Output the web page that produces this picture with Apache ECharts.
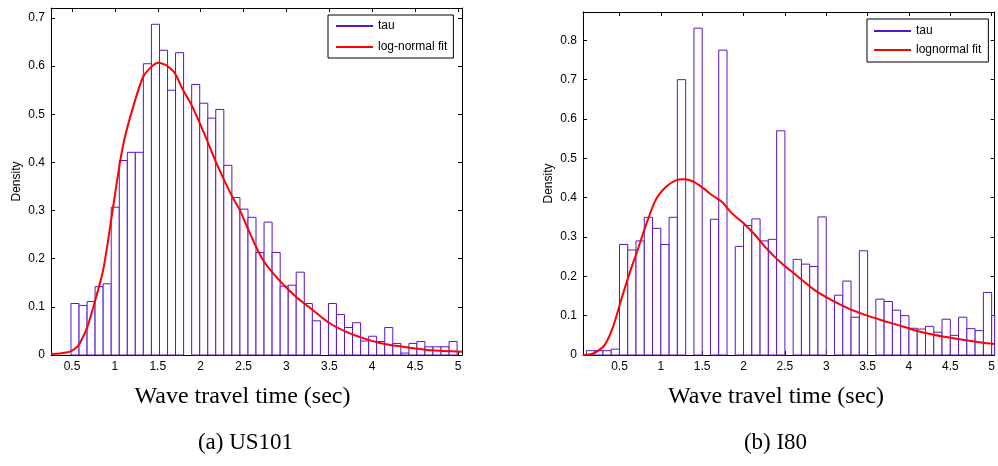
<!DOCTYPE html>
<html><head><meta charset="utf-8">
<script src="https://cdn.jsdelivr.net/npm/echarts@6/dist/echarts.min.js"></script>
<style>html,body{margin:0;padding:0;background:#fff}#c{width:998px;height:466px}</style>
</head><body><div id="c"></div><script>
// ---------- data ----------
const us101BinEdges = [0.488,0.582,0.676,0.769,0.863,0.957,1.051,1.145,1.238,1.332,1.426,1.520,1.614,1.707,1.801,1.895,1.989,2.083,2.176,2.270,2.364,2.458,2.552,2.645,2.739,2.833,2.927,3.021,3.114,3.208,3.302,3.396,3.490,3.583,3.677,3.771,3.865,3.959,4.052,4.146,4.240,4.334,4.428,4.521,4.615,4.709,4.803,4.897,4.990];
const us101Density = [0.107,0.103,0.111,0.142,0.148,0.307,0.404,0.421,0.421,0.605,0.687,0.633,0.550,0.628,0,0.562,0.523,0.492,0.510,0.394,0.327,0.303,0.286,0.213,0.276,0.213,0.143,0.145,0.172,0.107,0.071,0,0.107,0.084,0.057,0.067,0.029,0.039,0.028,0.057,0.024,0.004,0.024,0.028,0.017,0.017,0.017,0.028];
const us101FitX = [0.255,0.36,0.43,0.488,0.547,0.593,0.678,0.768,0.865,0.96,1.059,1.117,1.214,1.33,1.428,1.505,1.583,1.641,1.70,1.796,1.894,1.991,2.088,2.185,2.282,2.379,2.457,2.573,2.728,2.923,3.117,3.311,3.505,3.70,3.893,4.088,4.282,4.476,4.67,5.047];
const us101FitY = [0.002,0.003,0.005,0.008,0.015,0.025,0.058,0.112,0.178,0.285,0.400,0.453,0.516,0.578,0.599,0.607,0.603,0.596,0.585,0.550,0.519,0.481,0.440,0.398,0.360,0.325,0.301,0.253,0.197,0.154,0.120,0.093,0.066,0.048,0.035,0.025,0.019,0.014,0.010,0.007];

const i80BinEdges = [0.1,0.2,0.3,0.4,0.5,0.6,0.7,0.8,0.9,1.0,1.1,1.2,1.3,1.4,1.5,1.6,1.7,1.8,1.9,2.0,2.1,2.2,2.3,2.4,2.5,2.6,2.7,2.8,2.9,3.0,3.1,3.2,3.3,3.4,3.5,3.6,3.7,3.8,3.9,4.0,4.1,4.2,4.3,4.4,4.5,4.6,4.7,4.8,4.9,5.0,5.1];
const i80Density = [0.011,0.011,0.011,0.015,0.281,0.267,0.290,0.350,0.322,0.281,0.350,0.700,0,0.831,0,0.345,0.775,0,0.276,0.329,0.346,0.290,0.294,0.570,0,0.243,0.231,0.225,0.351,0,0.152,0.188,0.096,0.265,0,0.142,0.136,0.114,0.100,0.068,0.066,0.073,0.058,0.091,0.050,0.096,0.067,0.062,0.159,0.100];
const i80FitX = [0.059,0.15,0.22,0.32,0.42,0.52,0.62,0.72,0.82,0.94,1.06,1.18,1.29,1.40,1.52,1.62,1.74,1.86,2.0,2.14,2.26,2.46,2.66,2.86,3.06,3.26,3.47,3.66,3.87,4.07,4.27,4.47,4.67,4.87,5.036];
const i80FitY = [0.0,0.002,0.008,0.025,0.070,0.140,0.207,0.267,0.330,0.395,0.427,0.444,0.447,0.440,0.423,0.406,0.389,0.360,0.335,0.305,0.275,0.233,0.199,0.165,0.140,0.119,0.102,0.089,0.076,0.063,0.053,0.045,0.038,0.032,0.028];

const xTickValues = [0.5,1,1.5,2,2.5,3,3.5,4,4.5,5];
const us101YTicks = [0,0.1,0.2,0.3,0.4,0.5,0.6,0.7];
const i80YTicks = [0,0.1,0.2,0.3,0.4,0.5,0.6,0.7,0.8];

// ---------- chart ----------
const SANS = 'Arial, "Liberation Sans", sans-serif';
const SERIF = '"Times New Roman", "Liberation Serif", serif';
const BAR = '#5c14c8';
const chart = echarts.init(document.getElementById('c'), null, {renderer: 'canvas'});

function xAxes(gridIndex, min, max) {
  const base = {
    type: 'value', gridIndex, min, max,
    axisLine: {show: true, onZero: false, lineStyle: {color: '#000', width: 1}},
    axisTick: {show: true, inside: true, length: 4, customValues: xTickValues, lineStyle: {color: '#000'}},
    splitLine: {show: false}
  };
  return [
    Object.assign({}, base, {position: 'bottom',
      axisLabel: {show: true, customValues: xTickValues, color: '#000', fontSize: 12, fontFamily: SANS, margin: 6}}),
    Object.assign({}, base, {position: 'top', axisLabel: {show: false}})
  ];
}
function yAxes(gridIndex, max, ticks) {
  const base = {
    type: 'value', gridIndex, min: 0, max,
    axisLine: {show: true, onZero: false, lineStyle: {color: '#000', width: 1}},
    axisTick: {show: true, inside: true, length: 4, customValues: ticks, lineStyle: {color: '#000'}},
    splitLine: {show: false}
  };
  return [
    Object.assign({}, base, {position: 'left',
      axisLabel: {show: true, customValues: ticks, color: '#000', fontSize: 12, fontFamily: SANS, margin: 6},
      name: 'Density', nameLocation: 'middle', nameGap: 28,
      nameTextStyle: {color: '#000', fontSize: 12, fontFamily: SANS}}),
    Object.assign({}, base, {position: 'right', axisLabel: {show: false}})
  ];
}

function renderHist(params, api) {
  const v = api.value(2);
  if (!(v > 0)) return null;
  const p0 = api.coord([api.value(0), v]);
  const p1 = api.coord([api.value(1), 0]);
  const cs = params.coordSys;
  const shape = echarts.graphic.clipRectByRect(
    {x: p0[0], y: p0[1], width: p1[0] - p0[0], height: p1[1] - p0[1]},
    {x: cs.x, y: cs.y, width: cs.width, height: cs.height});
  return shape && {type: 'rect', shape, style: {fill: '#fff', stroke: BAR, lineWidth: 1}};
}

function histData(edges, dens) { return dens.map((v, i) => [edges[i], edges[i + 1], v]); }
function lineData(xs, ys) { return xs.map((x, i) => [x, ys[i]]); }

function legendFor(left, top, padding, gap, fitName) {
  return {
    orient: 'vertical', left, top, padding, itemGap: gap, itemWidth: 37, itemHeight: 2,
    backgroundColor: '#fff', borderColor: '#000', borderWidth: 1, borderRadius: 0,
    selectedMode: false,
    textStyle: {color: '#000', fontSize: 12, fontFamily: SANS, lineHeight: 14},
    data: [
      {name: 'tau', icon: 'rect', itemStyle: {color: BAR, borderWidth: 0}},
      {name: fitName, icon: 'rect', itemStyle: {color: '#ff0000', borderWidth: 0}}
    ]
  };
}

const option = {
  backgroundColor: '#fff',
  animation: false,
  grid: [
    {left: 51, top: 8, width: 411, height: 347},
    {left: 583, top: 12, width: 414, height: 343}
  ],
  xAxis: [].concat(xAxes(0, 0.255, 5.047), xAxes(1, 0.059, 5.036)),
  yAxis: [].concat(yAxes(0, 0.7208, us101YTicks), yAxes(1, 0.872, i80YTicks)),
  legend: [
    legendFor(328, 15, [4, 6, 4, 8], 7, 'log-normal fit'),
    legendFor(867, 19, [5, 7, 5, 7], 5, 'lognormal fit')
  ],
  series: [
    {type: 'custom', name: 'tau', xAxisIndex: 0, yAxisIndex: 0, renderItem: renderHist,
     encode: {x: [0, 1], y: 2}, data: histData(us101BinEdges, us101Density), itemStyle: {color: BAR}, z: 2},
    {type: 'line', name: 'log-normal fit', xAxisIndex: 0, yAxisIndex: 0, smooth: 0.3, symbol: 'none',
     data: lineData(us101FitX, us101FitY), lineStyle: {color: '#ff0000', width: 2}, itemStyle: {color: '#ff0000'}, z: 3},
    {type: 'custom', name: 'tau', xAxisIndex: 2, yAxisIndex: 2, renderItem: renderHist,
     encode: {x: [0, 1], y: 2}, data: histData(i80BinEdges, i80Density), itemStyle: {color: BAR}, z: 2},
    {type: 'line', name: 'lognormal fit', xAxisIndex: 2, yAxisIndex: 2, smooth: 0.3, symbol: 'none',
     data: lineData(i80FitX, i80FitY), lineStyle: {color: '#ff0000', width: 2}, itemStyle: {color: '#ff0000'}, z: 3}
  ],
  graphic: [
    {type: 'text', x: 242.5, y: 397, style: {text: 'Wave travel time (sec)', font: '24px ' + SERIF, fill: '#000', textAlign: 'center', textVerticalAlign: 'middle'}},
    {type: 'text', x: 776, y: 397, style: {text: 'Wave travel time (sec)', font: '24px ' + SERIF, fill: '#000', textAlign: 'center', textVerticalAlign: 'middle'}},
    {type: 'text', x: 245.5, y: 443, style: {text: '(a) US101', font: '23px ' + SERIF, fill: '#000', textAlign: 'center', textVerticalAlign: 'middle'}},
    {type: 'text', x: 775.5, y: 443, style: {text: '(b) I80', font: '23px ' + SERIF, fill: '#000', textAlign: 'center', textVerticalAlign: 'middle'}}
  ]
};
chart.setOption(option);
</script></body></html>
